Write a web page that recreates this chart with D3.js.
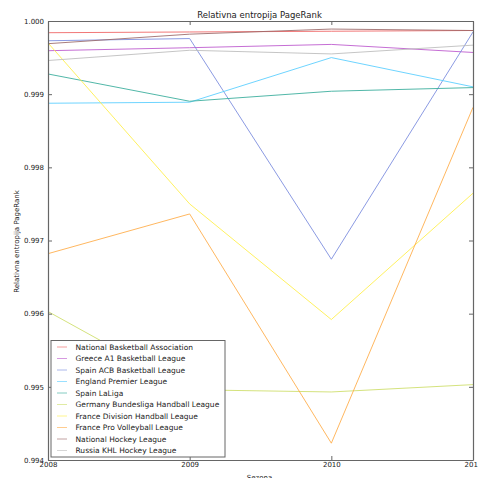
<!DOCTYPE html>
<html><head><meta charset="utf-8">
<script src="https://cdn.jsdelivr.net/npm/d3@7"></script>
<style>body{margin:0;background:#fff}svg{display:block;font-family:"DejaVu Sans",sans-serif}</style>
</head><body>
<svg id="c" width="478" height="478"></svg>
<script>
const seasons = [2008, 2009, 2010, 2011];
const leagues = ["National Basketball Association","Greece A1 Basketball League","Spain ACB Basketball League","England Premier League","Spain LaLiga","Germany Bundesliga Handball League","France Division Handball League","France Pro Volleyball League","National Hockey League","Russia KHL Hockey League"];
const colors = ["#ee5f5f","#bb55cc","#7788dd","#55ccff","#33aa99","#ccdd66","#ffee44","#ffaa44","#996666","#bbbbbb"];
const nba = [0.99984, 0.99985, 0.99986, 0.99987];
const greece = [0.999594, 0.999635, 0.99968, 0.99957];
const acb = [0.99973, 0.99976, 0.996744, 0.99985];
const epl = [0.998876, 0.99889, 0.99950, 0.99910];
const laliga = [0.999276, 0.998903, 0.99904, 0.99909];
const germany = [0.996029, 0.99496, 0.99493, 0.99503];
const franceDiv = [0.99970, 0.9975, 0.99592, 0.997646];
const volley = [0.99682, 0.997363, 0.99423, 0.99882];
const nhl = [0.99969, 0.99982, 0.99989, 0.99987];
const khl = [0.99946, 0.99960, 0.99955, 0.99967];
const series = [nba, greece, acb, epl, laliga, germany, franceDiv, volley, nhl, khl];
const yTicks = [0.994, 0.995, 0.996, 0.997, 0.998, 0.999, 1.000];

(function(){
const svg = d3.select("#c");
const L = 48, R = 473, T = 21, B = 460;
const x = d3.scaleLinear().domain([2008, 2011]).range([L, R]);
const y = d3.scaleLinear().domain([0.994, 1.0]).range([B, T]);

const axCol = "#666";
svg.append("clipPath").attr("id","pc").append("rect").attr("x",L).attr("y",T).attr("width",R-L).attr("height",B-T);
const g = svg.append("g").attr("clip-path","url(#pc)");
const line = d3.line().x((d,i)=>x(seasons[i])).y(d=>y(d));
series.forEach((s,i)=>{
  g.append("path").datum(s).attr("d",line).attr("fill","none")
   .attr("stroke",colors[i]).attr("stroke-width",1).attr("stroke-opacity",0.85);
});

const fmtY = d3.format(".3f");
const axB = svg.append("g").attr("transform",`translate(0,${B})`)
  .call(d3.axisBottom(x).tickValues(seasons).tickFormat(d3.format("d")).tickSizeInner(-4).tickSizeOuter(0).tickPadding(2));
const axT = svg.append("g").attr("transform",`translate(0,${T})`)
  .call(d3.axisTop(x).tickValues(seasons).tickFormat("").tickSizeInner(-4).tickSizeOuter(0));
const axL = svg.append("g").attr("transform",`translate(${L},0)`)
  .call(d3.axisLeft(y).tickValues(yTicks).tickFormat(fmtY).tickSizeInner(-4).tickSizeOuter(0).tickPadding(4));
const axR = svg.append("g").attr("transform",`translate(${R},0)`)
  .call(d3.axisRight(y).tickValues(yTicks).tickFormat("").tickSizeInner(-4).tickSizeOuter(0));
[axB, axT, axL, axR].forEach(a=>{
  a.selectAll("path").attr("stroke",axCol).attr("stroke-width",1.2);
  a.selectAll("line").attr("stroke",axCol);
  a.selectAll("text").attr("fill","#222").style("font-size","7px").style("font-family","DejaVu Sans");
});

svg.append("text").attr("x",259.5).attr("y",18).attr("text-anchor","middle")
  .style("font-size","8.5px").attr("fill","#222").text("Relativna entropija PageRank");
svg.append("text").attr("transform",`translate(19,241.5) rotate(-90)`).attr("text-anchor","middle")
  .style("font-size","7px").attr("fill","#222").text("Relativna entropija PageRank");
svg.append("text").attr("x",259.5).attr("y",480).attr("text-anchor","middle")
  .style("font-size","7px").attr("fill","#222").text("Sezona");

const lg = svg.append("g");
lg.append("rect").attr("x",51).attr("y",340.5).attr("width",174).attr("height",116.5)
  .attr("fill","#fff").attr("stroke",axCol).attr("stroke-width",1);
leagues.forEach((name,i)=>{
  const yy = 347 + i*11.5;
  lg.append("line").attr("x1",57).attr("x2",67).attr("y1",yy).attr("y2",yy)
    .attr("stroke",colors[i]).attr("stroke-opacity",0.6).attr("stroke-width",1);
  lg.append("text").attr("x",75.5).attr("y",yy).attr("dy","0.35em")
    .style("font-size","7.5px").attr("fill","#222").text(name);
});
})();
</script>
</body></html>
